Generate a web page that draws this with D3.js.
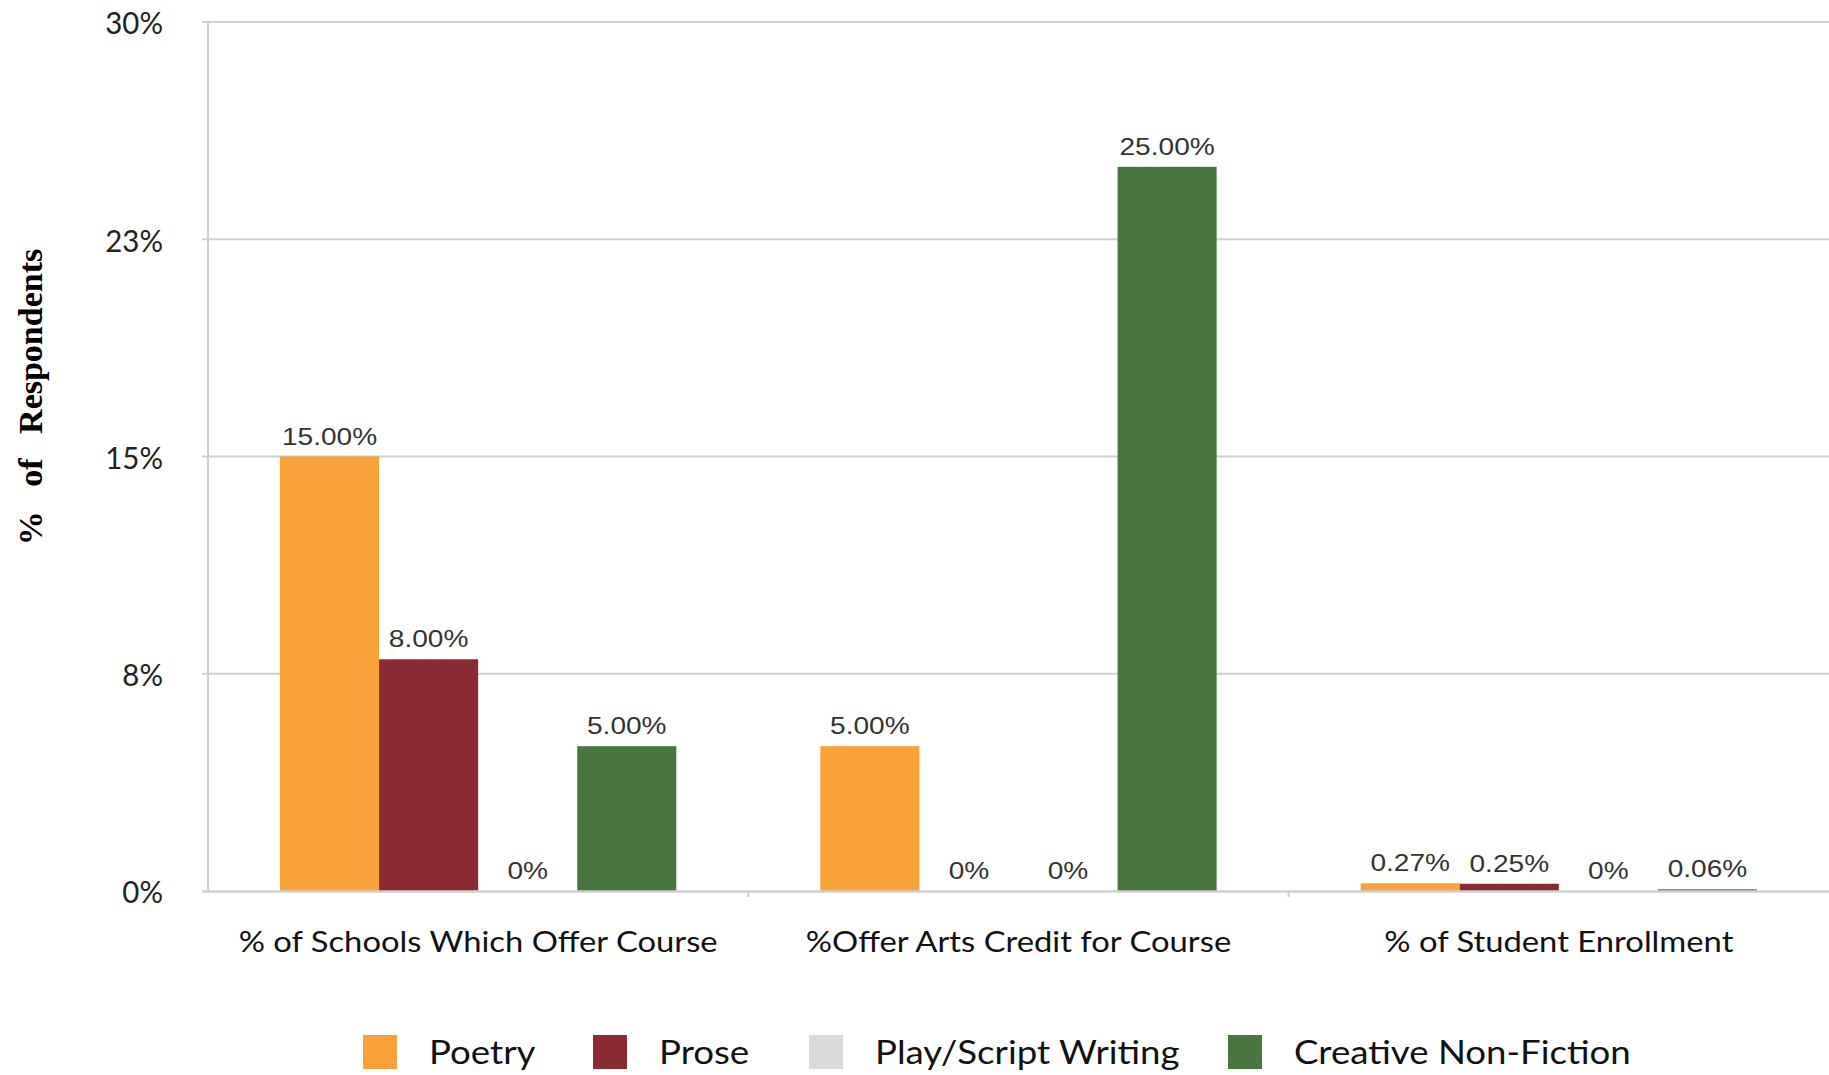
<!DOCTYPE html>
<html><head><meta charset="utf-8">
<script src="https://cdn.jsdelivr.net/npm/d3@7"></script>
<style>
html,body{margin:0;padding:0;background:#fff;}
svg{display:block;}
</style></head>
<body>
<svg id="chart" width="1829" height="1075"></svg>
<script>
const categories = ["% of Schools Which Offer Course", "%Offer Arts Credit for Course", "% of Student Enrollment"];
const seriesNames = ["Poetry", "Prose", "Play/Script Writing", "Creative Non-Fiction"];
const poetry = [15.00, 5.00, 0.27];
const prose = [8.00, 0, 0.25];
const playScript = [0, 0, 0];
const creativeNonFiction = [5.00, 25.00, 0.06];
const valueLabels = [
  ["15.00%", "5.00%", "0.27%"],
  ["8.00%", "0%", "0.25%"],
  ["0%", "0%", "0%"],
  ["5.00%", "25.00%", "0.06%"]
];
const yTicks = [0, 7.5, 15, 22.5, 30];
const yTickLabels = ["0%", "8%", "15%", "23%", "30%"];
const colors = ["#F9A23A", "#8A2A33", "#D9D9D9", "#47763F"];
const yTitle = "% of Respondents";

const seriesValues = [poetry, prose, playScript, creativeNonFiction];

const svg = d3.select("#chart");
const mLeft = 208, mRight = 1829, mTop = 22, mBottom = 891;

const x0 = d3.scaleBand().domain(categories).range([mLeft, mRight]).padding(0);
const x1 = d3.scaleBand().domain(seriesNames).range([0, x0.bandwidth()]).paddingInner(0).paddingOuter(0.727);
const y = d3.scaleLinear().domain([0, 30]).range([mBottom, mTop]);

const grid = "#cfcfcf";
const condensed = "'Lato', 'Open Sans', sans-serif";

// gridlines (above zero)
svg.append("g").selectAll("line").data(yTicks.filter(d => d > 0)).join("line")
  .attr("x1", mLeft - 6).attr("x2", mRight)
  .attr("y1", d => y(d)).attr("y2", d => y(d))
  .attr("stroke", grid).attr("stroke-width", 2);
// left axis line
svg.append("line").attr("x1", mLeft).attr("x2", mLeft).attr("y1", mTop).attr("y2", mBottom)
  .attr("stroke", grid).attr("stroke-width", 2);

// y tick labels
svg.append("g").selectAll("text").data(yTicks).join("text")
  .attr("transform", d => `translate(163,${y(d)}) scale(0.95,1)`)
  .attr("text-anchor", "end").attr("dominant-baseline", "central")
  .style("font-family", condensed).style("font-size", "31px").style("fill", "#222")
  .text((d, i) => yTickLabels[i]);

// bars
const groups = svg.append("g").selectAll("g").data(seriesNames).join("g")
  .attr("fill", (d, i) => colors[i]);
groups.selectAll("rect").data((s, si) => categories.map((c, ci) => ({c, s, si, v: seriesValues[si][ci]})))
  .join("rect")
  .attr("x", d => x0(d.c) + x1(d.s))
  .attr("width", x1.bandwidth())
  .attr("y", d => y(d.v))
  .attr("height", d => y(0) - y(d.v));

// zero baseline on top
svg.append("line").attr("x1", mLeft - 6).attr("x2", mRight)
  .attr("y1", y(0) + 0.5).attr("y2", y(0) + 0.5)
  .attr("stroke", grid).attr("stroke-width", 2.5);
// category separator ticks
svg.append("g").selectAll("line").data(categories.slice(1)).join("line")
  .attr("x1", d => x0(d)).attr("x2", d => x0(d))
  .attr("y1", mBottom).attr("y2", mBottom + 6)
  .attr("stroke", grid).attr("stroke-width", 2);

// value labels
const allPts = [];
seriesNames.forEach((s, si) => categories.forEach((c, ci) => allPts.push({c, s, v: seriesValues[si][ci], label: valueLabels[si][ci]})));
svg.append("g").selectAll("text").data(allPts).join("text")
  .attr("transform", d => `translate(${x0(d.c) + x1(d.s) + x1.bandwidth() / 2},${y(d.v) - 12}) scale(1.17,1)`)
  .attr("text-anchor", "middle")
  .style("font-family", "'Liberation Sans', Arial, sans-serif").style("font-size", "24px").style("fill", "#333")
  .text(d => d.label);

// category labels
svg.append("g").selectAll("text").data(categories).join("text")
  .attr("transform", d => `translate(${x0(d) + x0.bandwidth() / 2},952) scale(1.13,1)`)
  .attr("text-anchor", "middle")
  .style("font-family", condensed).style("font-size", "29px").style("fill", "#111")
  .text(d => d);

// y title
svg.append("text")
  .attr("transform", "translate(42,397) rotate(-90)")
  .attr("text-anchor", "middle")
  .style("font-family", "'Liberation Serif', 'Times New Roman', serif").style("font-weight", "bold")
  .style("font-size", "34px").style("word-spacing", "16px").style("fill", "#000")
  .text(yTitle);

// legend
const legendX = [363, 593, 809, 1228];
const legend = svg.append("g").selectAll("g").data(seriesNames).join("g")
  .attr("transform", (d, i) => `translate(${legendX[i]},1035)`);
legend.append("rect").attr("width", 34).attr("height", 34).attr("fill", (d, i) => colors[i]);
legend.append("text")
  .attr("transform", "translate(66,29) scale(1.11,1)")
  .style("font-family", condensed).style("font-size", "33px").style("fill", "#111")
  .text(d => d);
</script>
</body></html>
